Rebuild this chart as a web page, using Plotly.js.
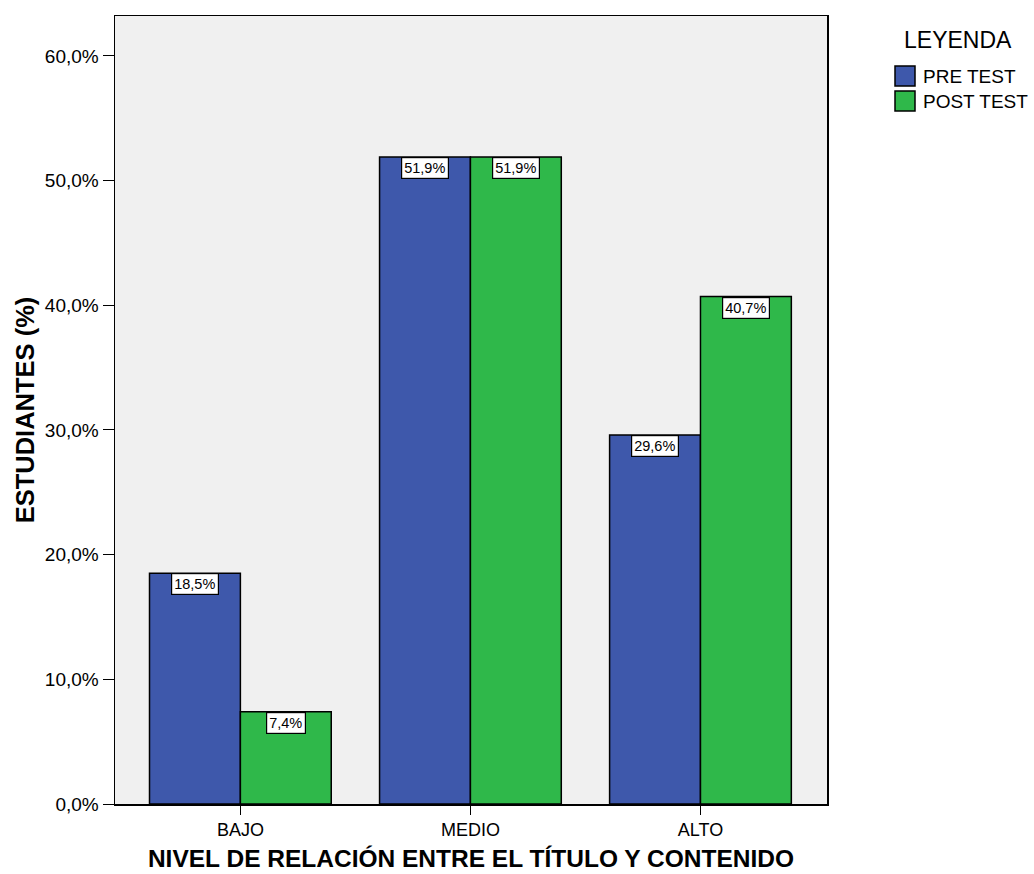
<!DOCTYPE html>
<html>
<head>
<meta charset="utf-8">
<script src="https://cdn.plot.ly/plotly-3.0.1.min.js"></script>
<style>html,body{margin:0;padding:0;background:#fff;}</style>
</head>
<body>
<div id="chart" style="width:1034px;height:874px;"></div>
<script>
const categories = ["BAJO", "MEDIO", "ALTO"];
const preTest = [18.5, 51.9, 29.6];
const postTest = [7.4, 51.9, 40.7];
const seriesNames = ["PRE TEST", "POST TEST"];
const legendTitle = "LEYENDA";
const yTickVals = [0, 10, 20, 30, 40, 50, 60];
const yTickText = ["0,0%", "10,0%", "20,0%", "30,0%", "40,0%", "50,0%", "60,0%"];

function fmt(v) { return v.toFixed(1).replace(".", ",") + "%"; }

const W = 1034, H = 874;
const M = { l: 115, r: 207, t: 16, b: 70 };
const pw = W - M.l - M.r, ph = H - M.t - M.b;
const px = x => (x - M.l) / pw;
const py = y => (H - M.b - y) / ph;

const colors = ["#3e58ab", "#2fb84a"];
const traces = [preTest, postTest].map((vals, i) => ({
  type: "bar",
  name: seriesNames[i],
  x: categories,
  y: vals,
  marker: { color: colors[i], line: { color: "#000", width: 1.5 } },
  hoverinfo: "none",
  showlegend: false
}));

const annotations = [];
const offs = [-0.198, 0.198];
[preTest, postTest].forEach((vals, s) => {
  vals.forEach((v, i) => {
    annotations.push({
      x: i + offs[s], y: v, xref: "x", yref: "y",
      text: fmt(v), showarrow: false, yanchor: "top", xanchor: "center",
      bgcolor: "#fff", bordercolor: "#000", borderwidth: 1.2, borderpad: 2,
      font: { family: "Liberation Sans, Arial", size: 14.5, color: "#000" }
    });
  });
});

// legend (drawn manually for larger swatches)
const shapes = [];
annotations.push({
  x: px(958), y: py(40), xref: "paper", yref: "paper", showarrow: false,
  xanchor: "center", yanchor: "middle", text: legendTitle,
  font: { size: 23, color: "#000" }
});
seriesNames.forEach((n, i) => {
  const top = 66 + i * 25;
  shapes.push({
    type: "rect", xref: "paper", yref: "paper",
    x0: px(895), x1: px(915), y0: py(top), y1: py(top + 20),
    fillcolor: colors[i], line: { color: "#000", width: 1.5 }
  });
  annotations.push({
    x: px(921), y: py(top + 10), xref: "paper", yref: "paper", showarrow: false,
    xanchor: "left", yanchor: "middle", text: n,
    font: { size: 19, color: "#000" }
  });
});

const layout = {
  width: W, height: H,
  margin: M,
  paper_bgcolor: "#fff", plot_bgcolor: "#f0f0f0",
  font: { family: "Liberation Sans, Arial", color: "#000" },
  barmode: "group", bargap: 0.21, bargroupgap: 0,
  showlegend: false,
  xaxis: {
    type: "category", range: [-0.545, 2.55],
    showline: true, linecolor: "#000", linewidth: 1.5, mirror: true,
    ticks: "outside", ticklen: 9, tickcolor: "#000",
    tickfont: { size: 18 }, showgrid: false,
    title: { text: "<b>NIVEL DE RELACIÓN ENTRE EL TÍTULO Y CONTENIDO</b>", font: { size: 24.5 }, standoff: 11 }
  },
  yaxis: {
    range: [0, 63.2], tickvals: yTickVals, ticktext: yTickText,
    showline: true, linecolor: "#000", linewidth: 1.5, mirror: true,
    ticks: "outside", ticklen: 11, tickcolor: "#000",
    tickfont: { size: 19 }, showgrid: false, zeroline: false,
    title: { text: "<b>ESTUDIANTES (%)</b>", font: { size: 25.5 }, standoff: 3 }
  },
  shapes: shapes,
  annotations: annotations
};

Plotly.newPlot("chart", traces, layout, { displayModeBar: false, staticPlot: true });
</script>
</body>
</html>
